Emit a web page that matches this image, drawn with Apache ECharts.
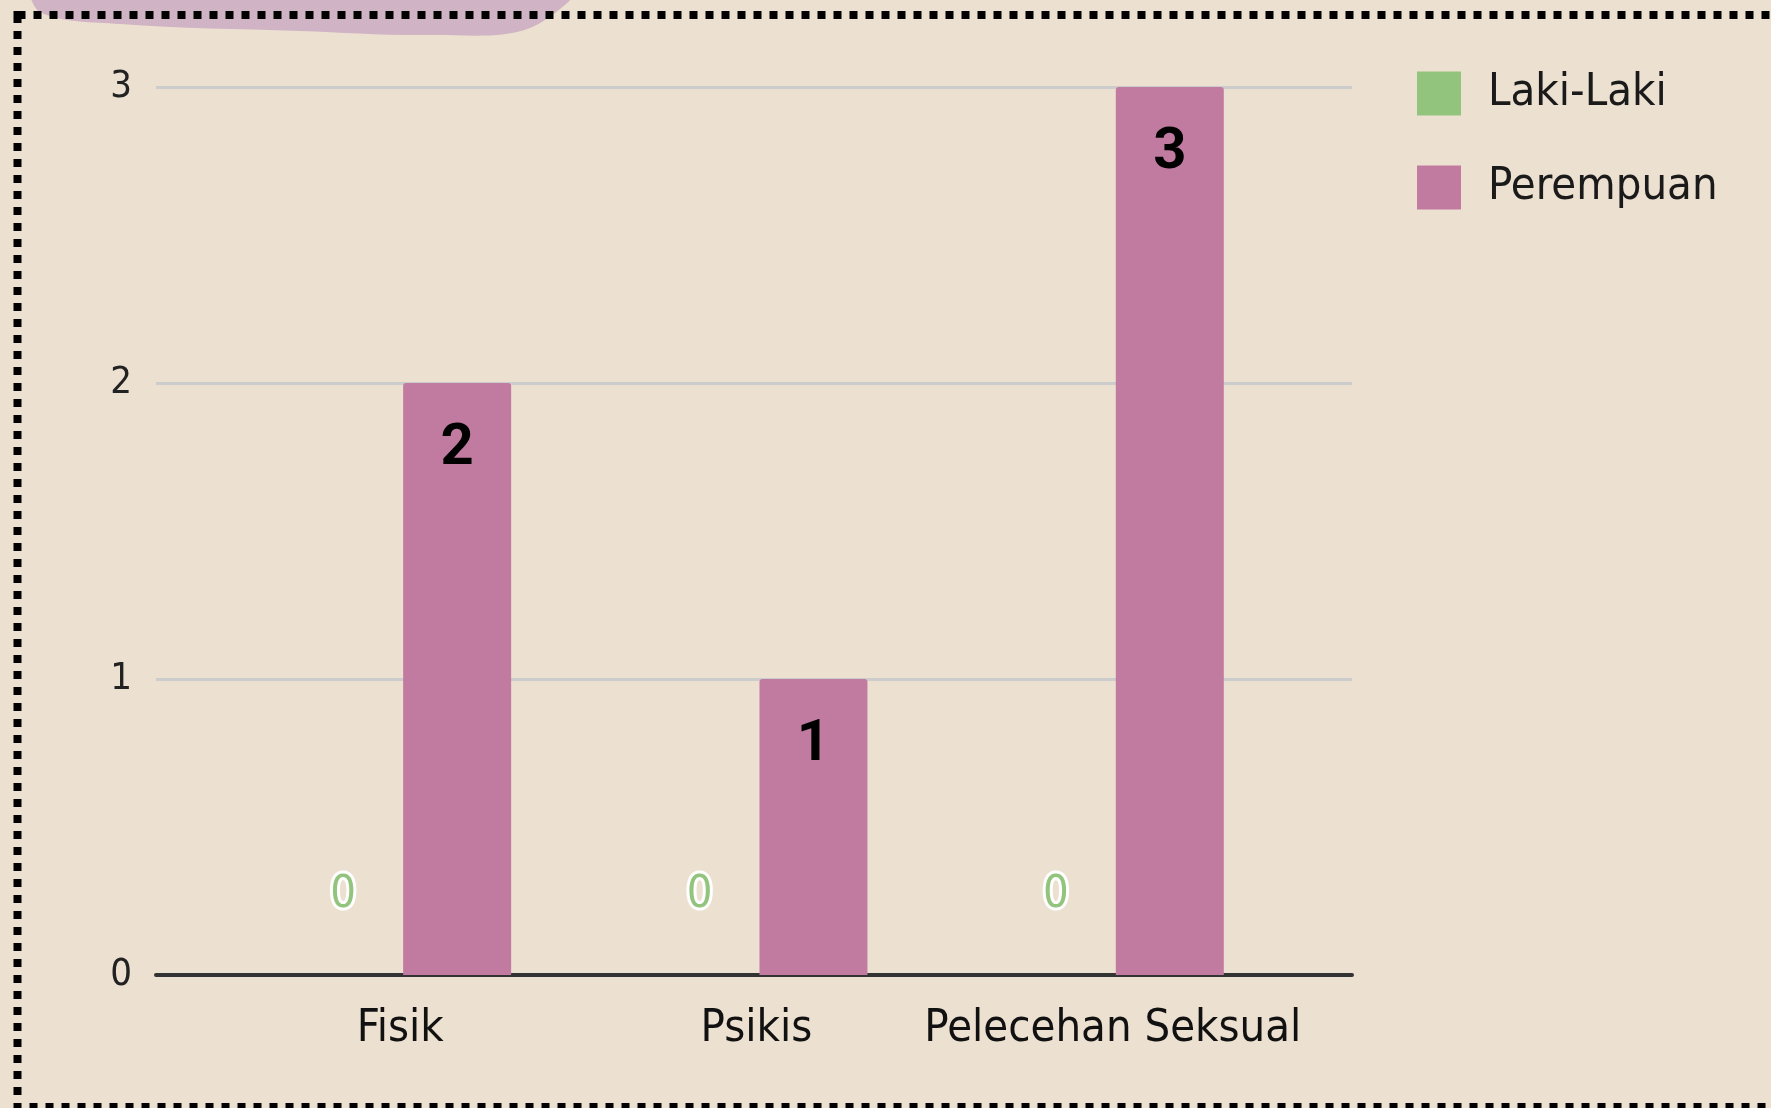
<!DOCTYPE html>
<html>
<head>
<meta charset="utf-8">
<script src="https://cdn.jsdelivr.net/npm/echarts@6/dist/echarts.min.js"></script>
<style>
  html, body { margin: 0; padding: 0; background: #ece0d0; }
  #canvas { width: 1771px; height: 1108px; }
</style>
</head>
<body>
<div id="canvas"></div>
<script>
const categories = ["Fisik", "Psikis", "Pelecehan Seksual"];
const lakiLaki = [0, 0, 0];
const perempuan = [2, 1, 3];
const yTicks = [0, 1, 2, 3];

const font = "'DejaVu Sans Condensed', 'Liberation Sans Narrow', sans-serif";
const myChart = window.echarts.init(document.querySelector("#canvas"));
window.addEventListener("resize", () => myChart.resize());

myChart.setOption({
  backgroundColor: "#ece0d0",
  textStyle: { fontFamily: font },
  graphic: [
    {
      // purple blob at top left
      type: "polygon",
      z: -10,
      shape: {
        points: [[34, -20], [40, 12], [120, 24], [300, 31], [430, 35], [530, 28], [577, -20]],
        smooth: 0.35
      },
      style: { fill: "#d0b3c4" }
    },
    {
      // dotted frame
      type: "rect",
      z: -5,
      shape: { x: 17.5, y: 15, width: 2000, height: 1092 },
      style: { fill: null, stroke: "#000", lineWidth: 8, lineDash: [8, 8] }
    }
  ],
  legend: {
    orient: "vertical",
    left: 1412,
    top: 66,
    itemWidth: 44,
    itemHeight: 44,
    itemGap: 49,
    icon: "rect",
    textStyle: { fontSize: 45, color: "#1a1a1a", fontFamily: font, padding: [0, 0, 0, 22] },
    data: ["Laki-Laki", "Perempuan"]
  },
  grid: [
    { left: 156, right: 419, top: 87, bottom: 133 },
    { left: 222, right: 480, top: 87, bottom: 133 }
  ],
  xAxis: [
    {
      gridIndex: 0,
      type: "category",
      data: [""],
      axisLine: { lineStyle: { color: "#333", width: 4 } },
      axisTick: { show: false },
      axisLabel: { show: false }
    },
    {
      gridIndex: 1,
      type: "category",
      data: categories,
      axisLine: { show: false },
      axisTick: { show: false },
      axisLabel: { interval: 0, margin: 32, fontSize: 45, color: "#111", fontFamily: font }
    }
  ],
  yAxis: [
    {
      gridIndex: 0,
      type: "value",
      min: yTicks[0],
      max: yTicks[yTicks.length - 1],
      interval: 1,
      axisLine: { show: false },
      axisTick: { show: false },
      axisLabel: { margin: 24, fontSize: 38, color: "#222", fontFamily: font },
      splitLine: { lineStyle: { color: "#cccccc", width: 3 } }
    },
    {
      gridIndex: 1,
      type: "value",
      min: 0,
      max: 3,
      interval: 1,
      show: false
    }
  ],
  series: [
    {
      name: "Laki-Laki",
      type: "bar",
      xAxisIndex: 1,
      yAxisIndex: 1,
      data: lakiLaki,
      barWidth: 108,
      barGap: "5.5%",
      itemStyle: { color: "#93c47d" },
      label: {
        show: true,
        position: "top",
        distance: 57,
        fontSize: 45,
        fontFamily: font,
        color: "#93c47d",
        textBorderColor: "#fff",
        textBorderWidth: 6
      }
    },
    {
      name: "Perempuan",
      type: "bar",
      xAxisIndex: 1,
      yAxisIndex: 1,
      data: perempuan,
      barWidth: 108,
      itemStyle: { color: "#c27ba0", borderRadius: [3, 3, 0, 0] },
      label: {
        show: true,
        position: "insideTop",
        distance: 37,
        fontSize: 58,
        fontWeight: "bold",
        fontFamily: "Roboto, sans-serif",
        color: "#000"
      }
    }
  ]
}, true);
</script>
</body>
</html>
